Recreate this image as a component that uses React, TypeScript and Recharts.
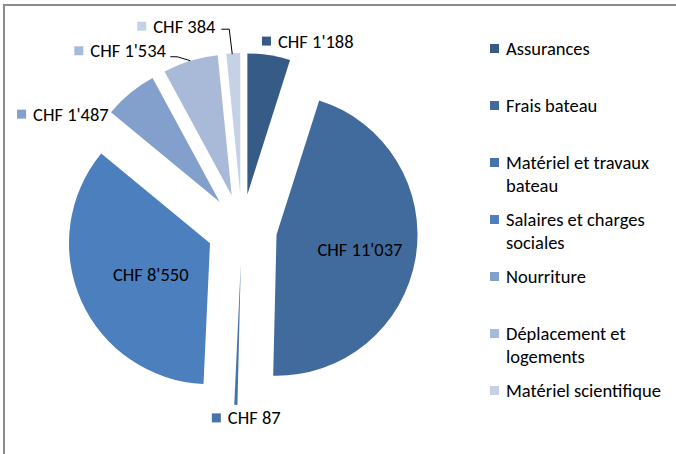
import { PieChart, Pie, Cell, Sector, Legend } from "recharts"

const CATEGORIES = [
  "Assurances",
  "Frais bateau",
  "Matériel et travaux bateau",
  "Salaires et charges sociales",
  "Nourriture",
  "Déplacement et logements",
  "Matériel scientifique",
]
const AMOUNTS = [1188, 11037, 87, 8550, 1487, 1534, 384]
const COLORS = ["#375B87", "#426B9D", "#4673AB", "#4C7FBD", "#839FCB", "#A9BAD8", "#C5D1E5"]

// label placement: inside ones sit on a fraction of the radius, outside ones are nudged from the slice edge
const LABEL_LAYOUT = [
  { inside: false, dx: -7, dy: -14, leader: null },
  { inside: true, r: 0.6, dx: 0, dy: 1 },
  { inside: false, dx: -24, dy: 13, leader: null },
  { inside: true, r: 0.46, dx: 0, dy: 5 },
  { inside: false, dx: -113, dy: 21, leader: null },
  { inside: false, dx: -116, dy: -10, leader: [[0, 0], [-13, -4], [-20, -4]] },
  { inside: false, dx: -96, dy: -27, leader: [[-1, 1], [-4, -24], [-12, -24]] },
]

const FONT = "Carlito, Calibri, Lato, sans-serif"
const FONT_SIZE = 18.5
const EXPLODE = 35
const RAD = Math.PI / 180

function fmt(n: number) {
  return "CHF " + String(n).replace(/\B(?=(\d{3})+(?!\d))/g, "'")
}

function ExplodedSlice(props: any) {
  const { cx, cy, midAngle } = props
  const dx = EXPLODE * Math.cos(-midAngle * RAD)
  const dy = EXPLODE * Math.sin(-midAngle * RAD)
  return <Sector {...props} cx={cx + dx} cy={cy + dy} stroke="none" />
}

function renderLabel(p: any) {
  const { cx, cy, midAngle, outerRadius, index } = p
  const cos = Math.cos(-midAngle * RAD)
  const sin = Math.sin(-midAngle * RAD)
  const lay: any = LABEL_LAYOUT[index]
  const text = fmt(AMOUNTS[index])
  if (lay.inside) {
    const r = EXPLODE + outerRadius * lay.r
    return (
      <text x={cx + r * cos + lay.dx} y={cy + r * sin + lay.dy} textAnchor="middle"
        dominantBaseline="central" fontFamily={FONT} fontSize={FONT_SIZE} fill="#000">
        {text}
      </text>
    )
  }
  const ex = cx + (EXPLODE + outerRadius) * cos
  const ey = cy + (EXPLODE + outerRadius) * sin
  const sx = ex + lay.dx
  const sy = ey + lay.dy
  return (
    <g>
      {lay.leader && (
        <polyline
          points={lay.leader.map(([a, b]: number[]) => `${ex + a},${ey + b}`).join(" ")}
          fill="none" stroke="#000" strokeWidth={1}
        />
      )}
      <rect x={sx} y={sy - 4.5} width={9} height={9} fill={COLORS[index]} />
      <text x={sx + 16} y={sy} dominantBaseline="central" fontFamily={FONT} fontSize={FONT_SIZE} fill="#000">
        {text}
      </text>
    </g>
  )
}

function LegendBox() {
  return (
    <div style={{ fontFamily: FONT, fontSize: FONT_SIZE, color: "#000" }}>
      {CATEGORIES.map((c, i) => (
        <div key={c} style={{ height: 57, display: "flex", alignItems: "flex-start" }}>
          <span style={{ width: 9, height: 9, background: COLORS[i], marginTop: 7, marginRight: 7, flex: "none" }} />
          <span style={{ width: 168, lineHeight: "23px" }}>{c}</span>
        </div>
      ))}
    </div>
  )
}

export default function App() {
  const data = CATEGORIES.map((name, i) => ({ name, value: AMOUNTS[i] }))
  return (
    <div style={{ position: "absolute", left: 0, top: 0, width: 676, height: 454, background: "#fff", overflow: "hidden" }}>
      <div style={{ position: "absolute", left: 3, top: 4, right: -10, bottom: -10, borderLeft: "2px solid #8c8c8c", borderTop: "2px solid #8c8c8c" }} />
      <PieChart width={676} height={454} margin={{ top: 0, right: 0, bottom: 0, left: 0 }}>
        <Pie
          data={data}
          dataKey="value"
          nameKey="name"
          cx={242}
          cy={229}
          outerRadius={141}
          startAngle={90}
          endAngle={-270}
          stroke="none"
          shape={ExplodedSlice}
          activeShape={ExplodedSlice}
          label={renderLabel}
          labelLine={false}
          isAnimationActive={false}
        >
          {data.map((d, i) => (
            <Cell key={d.name} fill={COLORS[i]} />
          ))}
        </Pie>
        <Legend content={<LegendBox />} wrapperStyle={{ position: "absolute", left: 490, top: 36.5, width: 186 }} />
      </PieChart>
    </div>
  )
}
